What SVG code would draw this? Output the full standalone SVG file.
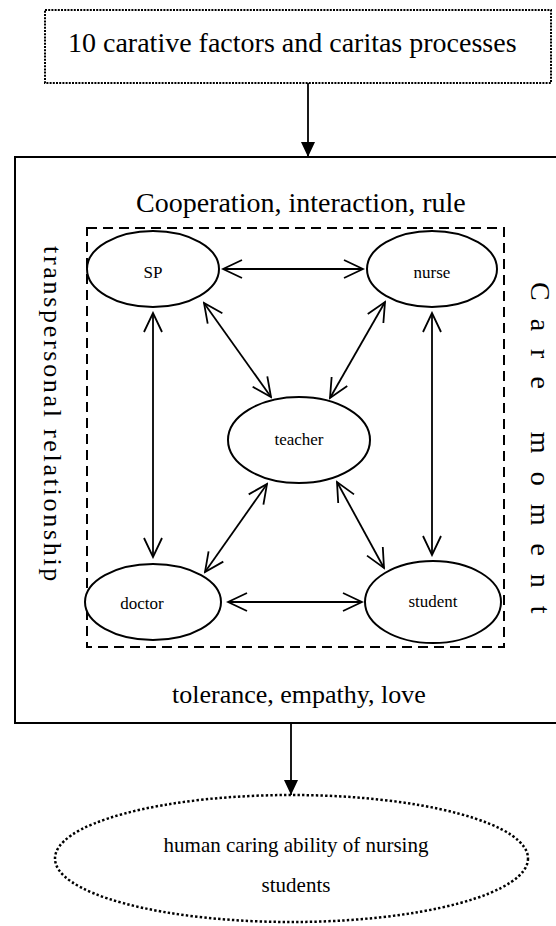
<svg xmlns="http://www.w3.org/2000/svg" width="556" height="926" viewBox="0 0 556 926">
<style>
text{font-family:"Liberation Serif","Times New Roman",serif;fill:#000}
.big{font-size:28px}
.lbl{font-size:17px;text-anchor:middle}
.out{font-size:21px;text-anchor:middle}
.node{fill:#fff;stroke:#000;stroke-width:2}
.conn{stroke:#000;stroke-width:1.8;fill:none}
</style>
<defs>
<marker id="open" viewBox="-22 -11 24 22" refX="0" refY="0" markerWidth="24" markerHeight="22" markerUnits="userSpaceOnUse" orient="auto-start-reverse">
<path d="M -19 -9 L 0 0 L -19 9" fill="none" stroke="#000" stroke-width="1.8"/>
</marker>
<marker id="solid" viewBox="-16 -8 17 16" refX="0" refY="0" markerWidth="17" markerHeight="16" markerUnits="userSpaceOnUse" orient="auto">
<path d="M -15 -7 L 0 0 L -15 7 Z" fill="#000"/>
</marker>
</defs>
<g id="top-box">
<rect x="45" y="10" width="506" height="73" fill="#fff" stroke="#000" stroke-width="2" stroke-dasharray="2 1.2"/>
<text class="big" x="68" y="52">10 carative factors and caritas processes</text>
</g>
<g id="care-frame">
<rect x="15" y="157" width="570" height="566" fill="none" stroke="#000" stroke-width="2"/>
<text class="big" x="136" y="212">Cooperation, interaction, rule</text>
<text class="big" x="172" y="703" style="font-size:26px">tolerance, empathy, love</text>
<text transform="translate(44,246) rotate(90)" style="font-size:26px;letter-spacing:2.7px">transpersonal relationship</text>
<text transform="translate(531,282) rotate(90)" style="font-size:28px;letter-spacing:18px">Care moment</text>
</g>
<g id="inner-frame">
<rect x="87" y="228" width="417" height="419" fill="none" stroke="#000" stroke-width="2" stroke-dasharray="10 6"/>
</g>
<g id="SP"><ellipse class="node" cx="153" cy="269" rx="66" ry="38"/><text class="lbl" x="153" y="278">SP</text></g>
<g id="nurse"><ellipse class="node" cx="432" cy="269" rx="65" ry="38"/><text class="lbl" x="432" y="278">nurse</text></g>
<g id="teacher"><ellipse class="node" cx="299" cy="440" rx="71" ry="43"/><text class="lbl" x="299" y="445">teacher</text></g>
<g id="doctor"><ellipse class="node" cx="153" cy="602" rx="68" ry="38"/><text class="lbl" x="142" y="609">doctor</text></g>
<g id="student"><ellipse class="node" cx="433" cy="602" rx="68" ry="41"/><text class="lbl" x="433" y="607">student</text></g>
<g id="outcome">
<ellipse cx="291.5" cy="858.5" rx="236.5" ry="63.5" fill="none" stroke="#000" stroke-width="2.5" stroke-dasharray="2.4 2.2"/>
<text class="out" x="296" y="852">human caring ability of nursing</text>
<text class="out" x="296" y="892">students</text>
</g>
<g id="connectors">
<line class="conn" x1="308" y1="83" x2="308" y2="157" marker-end="url(#solid)"/>
<line class="conn" x1="291" y1="723" x2="291" y2="795" marker-end="url(#solid)"/>
<line class="conn" x1="223" y1="269" x2="363" y2="269" marker-start="url(#open)" marker-end="url(#open)"/>
<line class="conn" x1="153" y1="313" x2="153" y2="557" marker-start="url(#open)" marker-end="url(#open)"/>
<line class="conn" x1="432" y1="313" x2="432" y2="555" marker-start="url(#open)" marker-end="url(#open)"/>
<line class="conn" x1="204" y1="303" x2="271" y2="397" marker-start="url(#open)" marker-end="url(#open)"/>
<line class="conn" x1="385" y1="302" x2="330" y2="398" marker-start="url(#open)" marker-end="url(#open)"/>
<line class="conn" x1="267" y1="484" x2="205" y2="572" marker-start="url(#open)" marker-end="url(#open)"/>
<line class="conn" x1="337" y1="482" x2="384" y2="568" marker-start="url(#open)" marker-end="url(#open)"/>
<line class="conn" x1="228" y1="602" x2="362" y2="602" marker-start="url(#open)" marker-end="url(#open)"/>
</g>
</svg>
